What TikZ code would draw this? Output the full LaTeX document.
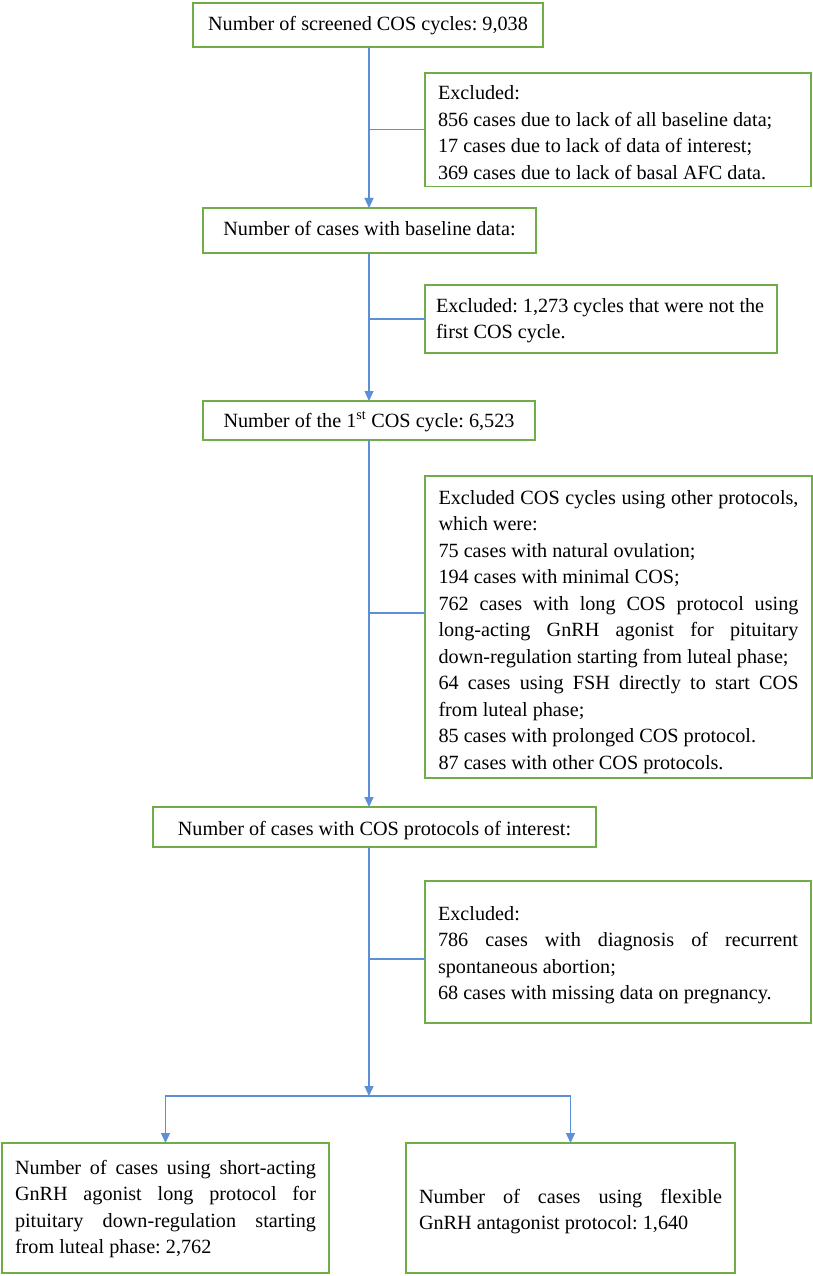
\documentclass[tikz,border=0pt]{standalone}
\usepackage{fontspec}
\setmainfont{Liberation Serif}
\usetikzlibrary{positioning,arrows.meta}
\definecolor{boxgreen}{HTML}{70AD47}
\definecolor{flowblue}{HTML}{5B8FD6}
\newcommand{\toppad}[1]{\rule{0pt}{#1pt}}
\newcommand{\botpad}[1]{\rule[-#1pt]{0pt}{#1pt}}
\newcommand{\jline}[1]{\makebox[\linewidth][s]{#1}}
\frenchspacing
\begin{document}
\begin{tikzpicture}[x=1pt,y=-1pt,
	font=\fontsize{20.2}{26.5}\selectfont,
	box/.style={draw=boxgreen, line width=1.8pt, inner ysep=0pt, outer sep=0pt},
	exbox/.style={box, text width=#1, execute at begin node={\spaceskip=0pt\xspaceskip=0pt}},
	flow/.style={draw=flowblue, line width=1.2pt, -{Triangle[length=10pt,width=9pt]}},
	link/.style={draw=flowblue, line width=1.2pt}]
		\useasboundingbox (0,0) rectangle (813,1276);
		\node (screen) [box, minimum width=350pt, anchor=north] at (368,3) {\toppad{28}\botpad{16}Number of screened COS cycles: 9,038};
		\node (base) [box, minimum width=333pt, below=161pt of screen, xshift=1.5pt] {\toppad{27}\botpad{18}Number of cases with baseline data:};
		\node (first) [box, minimum width=332pt, below=148pt of base, xshift=-0.5pt] {\toppad{26}\botpad{13}Number of the 1\textsuperscript{st} COS cycle: 6,523};
		\node (proto) [box, minimum width=443pt, below=367pt of first, xshift=5.5pt] {\toppad{28}\botpad{12}Number of cases with COS protocols of interest:};
		\node (ex1) [exbox=360pt, inner xsep=13pt, below right=26pt and 57pt of screen.south] {\toppad{27}Excluded:\\
			856 cases due to lack of all baseline data;\\
			17 cases due to lack of data of interest;\\
			369 cases due to lack of basal AFC data.\botpad{7}};
		\node (ex2) [exbox=330pt, inner xsep=11pt, below right=32pt and 55.5pt of base.south] {\toppad{27}Excluded: 1,273 cycles that were not the\\
			first COS cycle.\botpad{14.5}};
		\node (ex3) [exbox=360pt, inner xsep=13.5pt, below right=36pt and 56pt of first.south] {\jline{\toppad{28}Excluded COS cycles using other protocols,}\\
			which were:\\
			75 cases with natural ovulation;\\
			194 cases with minimal COS;\\
			\jline{762 cases with long COS protocol using}\\
			\jline{long-acting GnRH agonist for pituitary}\\
			down-regulation starting from luteal phase;\\
			\jline{64 cases using FSH directly to start COS}\\
			from luteal phase;\\
			85 cases with prolonged COS protocol.\\
			87 cases with other COS protocols.\botpad{9}};
		\node (ex4) [exbox=360pt, inner xsep=13pt, below right=34pt and 50.5pt of proto.south] {\toppad{39}Excluded:\\
			\jline{786 cases with diagnosis of recurrent}\\
			spontaneous abortion;\\
			68 cases with missing data on pregnancy.\botpad{23.5}};
		\coordinate (split) at (369,1096);
		\coordinate (ex3in) at ([yshift=14pt]ex3.west);
		\coordinate (ex4in) at ([yshift=-7pt]ex4.west);
		\node (agon) [exbox=301pt, inner xsep=13pt, below left=47pt and 40pt of split] {\jline{\toppad{31}Number of cases using short-acting}\\
			\jline{GnRH agonist long protocol for}\\
			\jline{pituitary down-regulation starting}\\
			from luteal phase: 2,762\botpad{19.5}};
		\node (antag) [exbox=303pt, inner xsep=13pt, below right=47pt and 37pt of split] {\jline{\toppad{60}Number of cases using flexible}\\
			GnRH antagonist protocol: 1,640\botpad{43.5}};
		\draw[flow] (screen.south -| split) -- (base.north -| split);
		\draw[flow] (base.south -| split) -- (first.north -| split);
		\draw[flow] (first.south -| split) -- (proto.north -| split);
		\draw[flow] (proto.south -| split) -- (split);
		\draw[link] (ex1.west -| split) -- (ex1.west);
		\draw[link] (ex2.west -| split) -- (ex2.west);
		\draw[link] (ex3in -| split) -- (ex3in);
		\draw[link] (ex4in -| split) -- (ex4in);
		\draw[flow] (split) -| (agon.north);
		\draw[flow] (split) -| (antag.north);
\end{tikzpicture}
\end{document}
